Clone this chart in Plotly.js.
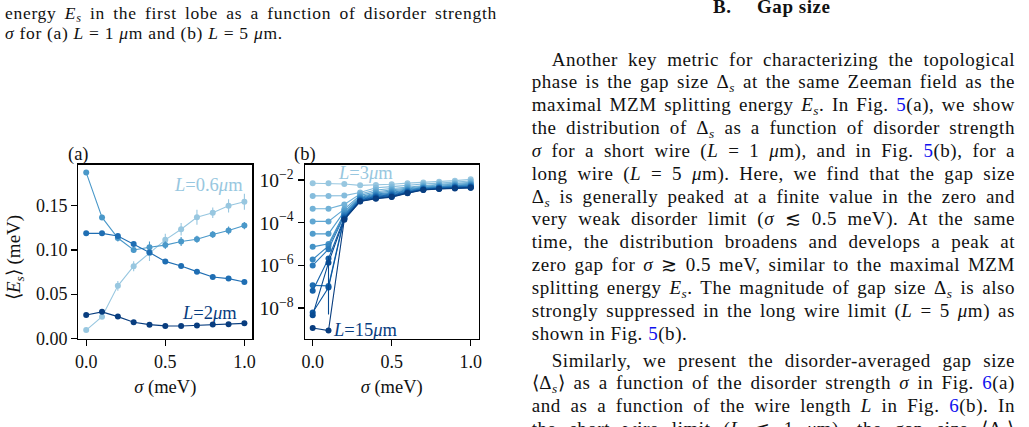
<!DOCTYPE html>
<html>
<head>
<meta charset="utf-8">
<script src="https://cdn.plot.ly/plotly-3.0.1.min.js"></script>
<style>
  html, body { margin:0; padding:0; width:1029px; height:427px; overflow:hidden; background:#fff; }
  #plot { position:absolute; left:0; top:0; width:500px; height:427px; }
  .ln { position:absolute; font-family:'Liberation Serif','Times New Roman',serif; color:#111; white-space:nowrap; }
  .body { font-size:19px; line-height:22px; letter-spacing:0.55px; }
  .head { font-size:19px; line-height:14px; letter-spacing:0.55px; }
  .cap { font-size:17.5px; line-height:17px; letter-spacing:0.7px; }
  .j { text-align:justify; text-align-last:justify; }
  sub { font-size:70%; vertical-align:-0.28em; line-height:0; }
  .ref { color:#1010ee; }
</style>
</head>
<body>
<div id="plot"></div>
<div id="text"></div>
<script>
// ---------------- data ----------------
const sigma = [0, 0.1, 0.2, 0.3, 0.4, 0.5, 0.6, 0.7, 0.8, 0.9, 1.0];
const xTickVals = [0, 0.5, 1.0];
const xTickText = ['0.0', '0.5', '1.0'];

// panel (a): <E_s> (meV)
const Es_L06   = [0.0094, 0.0245, 0.0594, 0.0816, 0.0965, 0.1115, 0.1235, 0.1370, 0.1422, 0.1500, 0.1546];
const Es_L06_e = [0.0012, 0.0018, 0.0055, 0.0056, 0.0090, 0.0070, 0.0070, 0.0085, 0.0060, 0.0075, 0.0090];
const Es_L1    = [0.1876, 0.1368, 0.1135, 0.1000, 0.1030, 0.1055, 0.1096, 0.1122, 0.1175, 0.1220, 0.1276];
const Es_L1_e  = [0.0020, 0.0030, 0.0040, 0.0030, 0.0065, 0.0045, 0.0050, 0.0040, 0.0040, 0.0045, 0.0040];
const Es_L15   = [0.1188, 0.1188, 0.1158, 0.1068, 0.0971, 0.0871, 0.0818, 0.0755, 0.0695, 0.0676, 0.0638];
const Es_L15_e = [0.0015, 0.0015, 0.0020, 0.0020, 0.0020, 0.0020, 0.0020, 0.0020, 0.0020, 0.0020, 0.0020];
const Es_L2    = [0.0265, 0.0300, 0.0246, 0.0182, 0.0155, 0.0141, 0.0140, 0.0146, 0.0157, 0.0160, 0.0170];
const Es_L2_e  = [0.0010, 0.0010, 0.0010, 0.0010, 0.0010, 0.0010, 0.0010, 0.0010, 0.0010, 0.0010, 0.0010];
const aTickVals = [0, 0.05, 0.10, 0.15];
const aTickText = ['0.00', '0.05', '0.10', '0.15'];

// panel (b): <E_s> for L = 3 ... 15 um (log scale)
const L_b = [3, 4, 5, 6, 7, 8, 9, 10, 11, 12, 13, 14, 15];
const Eb_L3  = [7.0e-3, 7.0e-3, 6.5e-3, 5.6e-3, 5.8e-3, 6.3e-3, 7.1e-3, 7.6e-3, 8.3e-3, 9.3e-3, 1.07e-2];
const Eb_L4  = [1.8e-3, 1.8e-3, 1.86e-3, 2.6e-3, 4.3e-3, 4.9e-3, 5.8e-3, 6.5e-3, 7.1e-3, 7.9e-3, 8.9e-3];
const Eb_L5  = [4.5e-4, 4.5e-4, 7.2e-4, 2.2e-3, 3.4e-3, 4.0e-3, 4.9e-3, 5.6e-3, 6.3e-3, 6.9e-3, 7.8e-3];
const Eb_L6  = [1.15e-4, 1.15e-4, 4.3e-4, 1.9e-3, 2.8e-3, 3.4e-3, 4.3e-3, 5.1e-3, 5.8e-3, 6.3e-3, 6.9e-3];
const Eb_L7  = [3.0e-5, 3.0e-5, 3.4e-4, 1.66e-3, 2.45e-3, 2.95e-3, 3.8e-3, 4.7e-3, 5.25e-3, 5.75e-3, 6.3e-3];
const Eb_L8  = [7.4e-6, 1.02e-5, 2.75e-4, 1.51e-3, 2.19e-3, 2.63e-3, 3.47e-3, 4.37e-3, 4.9e-3, 5.37e-3, 5.9e-3];
const Eb_L9  = [1.9e-6, 8.1e-6, 2.34e-4, 1.38e-3, 2.0e-3, 2.4e-3, 3.24e-3, 4.17e-3, 4.68e-3, 5.13e-3, 5.5e-3];
const Eb_L10 = [1.0e-6, 5.75e-6, 2.09e-4, 1.29e-3, 1.82e-3, 2.19e-3, 3.02e-3, 3.98e-3, 4.47e-3, 4.9e-3, 5.25e-3];
const Eb_L11 = [1.17e-7, 1.1e-7, 1.86e-4, 1.2e-3, 1.7e-3, 2.0e-3, 2.82e-3, 3.8e-3, 4.27e-3, 4.68e-3, 5.0e-3];
const Eb_L12 = [6.5e-8, 2.09e-6, 1.7e-4, 1.12e-3, 1.58e-3, 1.86e-3, 2.69e-3, 3.63e-3, 4.17e-3, 4.47e-3, 4.79e-3];
const Eb_L13 = [6.3e-9, 9.3e-8, 1.58e-4, 1.07e-3, 1.48e-3, 1.74e-3, 2.57e-3, 3.55e-3, 3.98e-3, 4.27e-3, 4.57e-3];
const Eb_L14 = [4.7e-9, 1.35e-6, 1.48e-4, 1.02e-3, 1.38e-3, 1.66e-3, 2.45e-3, 3.47e-3, 3.89e-3, 4.17e-3, 4.37e-3];
const Eb_L15 = [1.17e-9, 8.9e-10, 1.38e-4, 9.8e-4, 1.32e-3, 1.58e-3, 2.4e-3, 3.39e-3, 3.8e-3, 3.98e-3, 4.27e-3];
const Eb_L14_e = [0, 1.345e-6, 0, 0, 0, 0, 0, 0, 0, 0, 0];
const bTickVals = [1e-8, 1e-6, 1e-4, 1e-2];
const bTickText = ['10<sup>−8</sup>', '10<sup>−6</sup>', '10<sup>−4</sup>', '10<sup>−2</sup>'];

// ---------------- styles ----------------
const W = 500, H = 427;
const FONT = 'Liberation Serif, Times New Roman, serif';
const blueStops = [[0,[247,251,255]],[0.125,[222,235,247]],[0.25,[198,219,239]],[0.375,[158,202,225]],
  [0.5,[107,174,214]],[0.625,[66,146,198]],[0.75,[33,113,181]],[0.875,[8,81,156]],[1,[8,48,107]]];
function blues(t) {
  for (let i = 1; i < blueStops.length; i++) {
    if (t <= blueStops[i][0]) {
      const [t0, c0] = blueStops[i-1], [t1, c1] = blueStops[i];
      const f = (t - t0) / (t1 - t0);
      return 'rgb(' + c0.map((c, k) => Math.round(c + f*(c1[k]-c))).join(',') + ')';
    }
  }
  return 'rgb(8,48,107)';
}

const traces = [];
function addA(y, e, col) {
  traces.push({x: sigma, y: y, type: 'scatter', mode: 'lines+markers', xaxis: 'x', yaxis: 'y',
    line: {color: col, width: 1.1}, marker: {color: col, size: 6},
    error_y: {type: 'data', array: e, visible: true, color: col, thickness: 1.1, width: 0}});
}
const cA = [blues(0.39), blues(0.6), blues(0.76), blues(0.95)];
addA(Es_L06, Es_L06_e, cA[0]);
addA(Es_L1, Es_L1_e, cA[1]);
addA(Es_L15, Es_L15_e, cA[2]);
addA(Es_L2, Es_L2_e, cA[3]);

const seriesB = [Eb_L3, Eb_L4, Eb_L5, Eb_L6, Eb_L7, Eb_L8, Eb_L9, Eb_L10, Eb_L11, Eb_L12, Eb_L13, Eb_L14, Eb_L15];
seriesB.forEach((y, i) => {
  const col = blues(0.39 + 0.56 * i / (seriesB.length - 1));
  const tr = {x: sigma, y: y, type: 'scatter', mode: 'lines+markers', xaxis: 'x2', yaxis: 'y2',
    name: 'L=' + L_b[i], line: {color: col, width: 1.1}, marker: {color: col, size: 6}};
  if (L_b[i] === 14) tr.error_y = {type: 'data', array: Eb_L14_e, visible: true, color: col, thickness: 1.1, width: 0};
  traces.push(tr);
});

const yDom = [1 - 338.8/H, 1 - 164.7/H];
const axCommon = {
  ticks: 'outside', ticklen: 6, tickwidth: 1.3, tickcolor: '#000',
  showline: true, linewidth: 1.3, linecolor: '#000', mirror: true,
  showgrid: false, zeroline: false, tickfont: {family: FONT, size: 18, color: '#111'}
};
const layout = {
  width: W, height: H, margin: {l: 0, r: 0, t: 0, b: 0},
  paper_bgcolor: 'rgba(0,0,0,0)', plot_bgcolor: '#fff', showlegend: false,
  font: {family: FONT, size: 18, color: '#111'},
  xaxis: Object.assign({}, axCommon, {domain: [78.3/W, 252.3/W], range: [-0.05, 1.05], anchor: 'y',
    tickvals: xTickVals, ticktext: xTickText,
    title: {text: '<i>σ</i> (meV)', standoff: 9, font: {family: FONT, size: 18.5, color: '#111'}}}),
  yaxis: Object.assign({}, axCommon, {domain: yDom, range: [-0.0005, 0.1965], anchor: 'x',
    tickvals: aTickVals, ticktext: aTickText}),
  xaxis2: Object.assign({}, axCommon, {domain: [304.8/W, 478.6/W], range: [-0.05, 1.05], anchor: 'y2',
    tickvals: xTickVals, ticktext: xTickText,
    title: {text: '<i>σ</i> (meV)', standoff: 9, font: {family: FONT, size: 18.5, color: '#111'}}}),
  yaxis2: Object.assign({}, axCommon, {domain: yDom, type: 'log', range: [-9.435, -1.285], anchor: 'x2',
    tickvals: bTickVals, ticktext: bTickText, tickfont: {family: FONT, size: 19.5, color: '#111'}}),
  annotations: [
    {text: '⟨<i>E</i><sub><i>s</i></sub>⟩ (meV)', xref: 'paper', yref: 'paper', x: 15/W, y: 1 - 258/H, textangle: -90,
      xanchor: 'center', yanchor: 'middle', showarrow: false, font: {family: FONT, size: 19, color: '#111'}},
    {text: '(a)', xref: 'paper', yref: 'paper', x: 78.5/W, y: 1 - 155/H, xanchor: 'center', yanchor: 'middle', showarrow: false, font: {family: FONT, size: 18.5, color: '#111'}},
    {text: '(b)', xref: 'paper', yref: 'paper', x: 304.5/W, y: 1 - 155/H, xanchor: 'center', yanchor: 'middle', showarrow: false, font: {family: FONT, size: 18.5, color: '#111'}},
    {text: '<i>L</i>=0.6<i>μ</i>m', xref: 'x', yref: 'y', x: 0.77, y: 0.173, xanchor: 'center', yanchor: 'middle', showarrow: false, font: {family: FONT, size: 18.5, color: cA[0]}},
    {text: '<i>L</i>=2<i>μ</i>m', xref: 'x', yref: 'y', x: 0.78, y: 0.029, xanchor: 'center', yanchor: 'middle', showarrow: false, font: {family: FONT, size: 18.5, color: cA[3]}},
    {text: '<i>L</i>=3<i>μ</i>m', xref: 'x2', yref: 'y2', x: 0.336, y: -1.66, xanchor: 'center', yanchor: 'middle', showarrow: false, font: {family: FONT, size: 18.5, color: blues(0.39)}},
    {text: '<i>L</i>=15<i>μ</i>m', xref: 'x2', yref: 'y2', x: 0.333, y: -9.01, xanchor: 'center', yanchor: 'middle', showarrow: false, font: {family: FONT, size: 18.5, color: blues(0.95)}}
  ]
};
Plotly.newPlot('plot', traces, layout, {staticPlot: true, displayModeBar: false});

// ---------------- surrounding page text ----------------
const Es = '<i>E</i><sub><i>s</i></sub>';
const Ds = 'Δ<sub><i>s</i></sub>';
const um = '<i>μ</i>m';
const captionLines = [
  ['energy ' + Es + ' in the first lobe as a function of disorder strength', true],
  ['<i>σ</i> for (a) <i>L</i>&nbsp;=&nbsp;1 ' + um + ' and (b) <i>L</i>&nbsp;=&nbsp;5 ' + um + '.', false]
];
const bodyLines = [
  ['Another key metric for characterizing the topological', true, true],
  ['phase is the gap size ' + Ds + ' at the same Zeeman field as the', true, false],
  ['maximal MZM splitting energy ' + Es + '. In Fig. <span class="ref">5</span>(a), we show', true, false],
  ['the distribution of ' + Ds + ' as a function of disorder strength', true, false],
  ['<i>σ</i> for a short wire (<i>L</i> = 1 ' + um + '), and in Fig. <span class="ref">5</span>(b), for a', true, false],
  ['long wire (<i>L</i> = 5 ' + um + '). Here, we find that the gap size', true, false],
  [Ds + ' is generally peaked at a finite value in the zero and', true, false],
  ['very weak disorder limit (<i>σ</i> ≲ 0.5 meV). At the same', true, false],
  ['time, the distribution broadens and develops a peak at', true, false],
  ['zero gap for <i>σ</i> ≳ 0.5 meV, similar to the maximal MZM', true, false],
  ['splitting energy ' + Es + '. The magnitude of gap size ' + Ds + ' is also', true, false],
  ['strongly suppressed in the long wire limit (<i>L</i> = 5 ' + um + ') as', true, false],
  ['shown in Fig. <span class="ref">5</span>(b).', false, false],
  ['Similarly, we present the disorder-averaged gap size', true, true],
  ['⟨' + Ds + '⟩ as a function of the disorder strength <i>σ</i> in Fig. <span class="ref">6</span>(a)', true, false],
  ['and as a function of the wire length <i>L</i> in Fig. <span class="ref">6</span>(b). In', true, false],
  ['the short wire limit (<i>L</i> ≲ 1 ' + um + '), the gap size ⟨' + Ds + '⟩', true, false]
];
const txt = document.getElementById('text');
function addLine(html, cls, left, topPx, width, just) {
  const d = document.createElement('div');
  d.className = 'ln ' + cls + (just ? ' j' : '');
  d.style.left = left + 'px'; d.style.top = topPx + 'px';
  if (width) d.style.width = width + 'px';
  d.innerHTML = html;
  txt.appendChild(d);
}
captionLines.forEach((l, i) => addLine(l[0], 'cap', 5, 4.5 + i * 20, l[1] ? 492 : 0, l[1]));
addLine('<b>B.</b>', 'head', 713, 0, 0, false);
addLine('<b>Gap size</b>', 'head', 757, 0, 0, false);
let lineTop = 48.5;
bodyLines.forEach((l, i) => {
  if (i === 13) lineTop += 4;
  const left = l[2] ? 551.7 : 531.7;
  addLine(l[0], 'body', left, lineTop, 1015 - left, l[1]);
  lineTop += 22.85;
});
</script>
</body>
</html>
